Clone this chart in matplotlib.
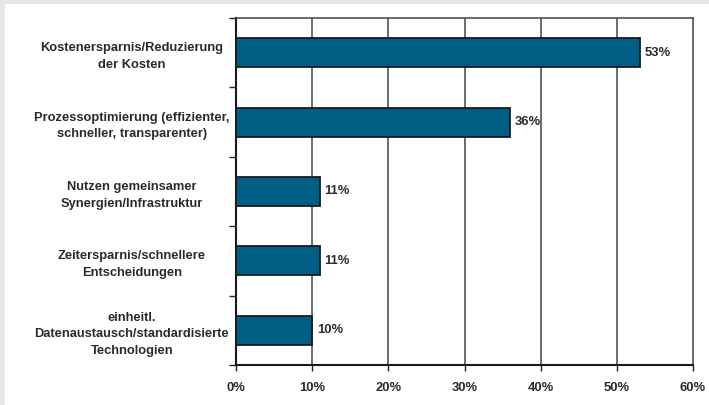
import matplotlib.pyplot as plt
import numpy as np

categories = [
    "Kostenersparnis/Reduzierung\nder Kosten",
    "Prozessoptimierung (effizienter,\nschneller, transparenter)",
    "Nutzen gemeinsamer\nSynergien/Infrastruktur",
    "Zeitersparnis/schnellere\nEntscheidungen",
    "einheitl.\nDatenaustausch/standardisierte\nTechnologien",
]
values = [53, 36, 11, 11, 10]
xticks = [0, 10, 20, 30, 40, 50, 60]
xtick_labels = ["0%", "10%", "20%", "30%", "40%", "50%", "60%"]

bar_color = "#005E85"
font = {"family": ["Liberation Sans", "DejaVu Sans"], "weight": "bold"}

fig = plt.figure(figsize=(7.09, 4.05), dpi=100)
fig.patch.set_facecolor("#E6E7E9")
# white panel behind everything
fig.add_artist(plt.Rectangle((5 / 709, 0), 1, 1 - 4 / 405, transform=fig.transFigure,
                             facecolor="white", edgecolor="none", zorder=0))

ax = fig.add_axes([236 / 709, 1 - 365 / 405, (693 - 236) / 709, (365 - 18) / 405])
ax.set_facecolor("white")

y = np.arange(len(categories))
ax.barh(y, values, height=0.42, color=bar_color, edgecolor="#1a1a1a", linewidth=1.3, zorder=3)

for yi, v in zip(y, values):
    ax.text(v + 0.6, yi, f"{v}%", va="center", ha="left", fontsize=9.4,
            color="#2a2a2a", zorder=4, **font)

ax.set_xlim(0, 60)
ax.set_ylim(len(categories) - 0.5, -0.5)

ax.set_xticks(xticks)
ax.set_xticklabels(xtick_labels, fontsize=9.4, color="#2a2a2a", **font)
ax.set_yticks(y)
ax.set_yticklabels(categories, fontsize=9.3, color="#2a2a2a", ha="center",
                   linespacing=1.5, **font)
ax.tick_params(axis="y", length=0, pad=75)
ax.tick_params(axis="x", length=4, width=1, color="#222222", pad=8)

# ticks between categories on the y axis
ax.set_yticks(np.arange(-0.5, len(categories)), minor=True)
ax.tick_params(axis="y", which="minor", length=5, width=1, color="#222222")

for xv in xticks[1:-1]:
    ax.axvline(xv, color="#444444", linewidth=1.1, zorder=1)

for side in ("left", "bottom"):
    ax.spines[side].set_color("#1a1a1a")
    ax.spines[side].set_linewidth(1.5)
for side in ("top", "right"):
    ax.spines[side].set_color("#444444")
    ax.spines[side].set_linewidth(1.1)

fig.savefig("out.png", dpi=100, facecolor=fig.get_facecolor())
